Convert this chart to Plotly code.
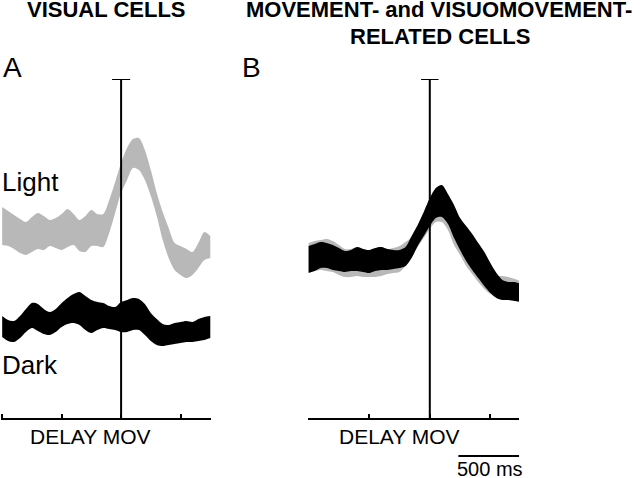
import plotly.graph_objects as go

# time relative to movement onset (ms)
TIME_MS = [-1000, -950, -900, -850, -800, -750, -700, -650, -600, -550, -500, -450,
           -400, -350, -300, -250, -200, -150, -100, -50, 0, 50, 100, 150,
           200, 250, 300, 350, 400, 450, 500, 550, 600, 650, 700, 750]

# Panel A (visual cells), activity in arbitrary units
A_LIGHT_UPPER = [211, 207, 203, 199, 196, 201, 205, 202, 198, 200, 204, 209, 204, 198, 202, 208, 204, 204,
                 218, 236, 255, 270, 279, 280, 268, 248, 225, 206, 190, 175, 172, 169, 166, 175, 186, 182]
A_LIGHT_LOWER = [173, 172, 169, 165, 163, 166, 169, 168, 172, 170, 168, 171, 173, 167, 166, 172, 172, 171,
                 185, 205, 225, 238, 250, 248, 238, 222, 202, 178, 160, 148, 143, 140, 143, 150, 158, 160]
A_DARK_UPPER = [102, 98, 97, 102, 109, 115, 114, 109, 106, 109, 115, 120, 124, 126, 122, 118, 116, 115,
                112, 111, 116, 118, 120, 119, 114, 105, 99, 94, 93, 95, 96, 97, 96, 99, 101, 102]
A_DARK_LOWER = [81, 77, 76, 80, 86, 90, 87, 84, 83, 86, 91, 94, 95, 93, 88, 85, 88, 90,
                89, 88, 86, 86, 88, 88, 83, 77, 73, 72, 73, 74, 75, 76, 76, 77, 78, 80]

# Panel B (movement- and visuomovement-related cells)
B_LIGHT_UPPER = [175, 177, 178, 179, 177, 173, 169, 169, 171, 169, 168, 170, 171, 169, 170, 172, 176, 181,
                 190, 200, 207, 211, 210, 203, 191, 180, 171, 163, 155, 148, 143, 142, 142, 141, 139, 137]
B_LIGHT_LOWER = [146, 147, 148, 147, 146, 143, 141, 141, 142, 141, 141, 141, 142, 144, 145, 146, 152, 161,
                 171, 180, 189, 196, 196, 188, 173, 163, 152, 144, 136, 129, 124, 121, 120, 119, 119, 118]
B_DARK_UPPER = [172, 174, 176, 175, 173, 170, 167, 168, 171, 169, 168, 170, 171, 169, 168, 168, 171, 182,
                193, 206, 220, 230, 233, 224, 213, 200, 192, 184, 175, 166, 155, 145, 138, 136, 136, 134]
B_DARK_LOWER = [145, 147, 150, 150, 148, 147, 146, 147, 147, 146, 145, 147, 148, 148, 149, 150, 152, 160,
                172, 182, 192, 200, 201, 194, 180, 168, 157, 148, 140, 132, 125, 120, 118, 118, 117, 116]

TICKS_MS = [-1000, -500, 0, 500]
GRAY = "rgb(184,184,184)"
BLACK = "black"
FONT = "Liberation Sans, Arial, Helvetica, sans-serif"

W, H = 640, 478


def band(fig, lower, upper, color, xa, ya):
    fig.add_trace(go.Scatter(x=TIME_MS, y=lower, mode="lines",
                             line=dict(width=0, color=color, shape="spline", smoothing=0.8),
                             xaxis=xa, yaxis=ya, showlegend=False, hoverinfo="skip"))
    fig.add_trace(go.Scatter(x=TIME_MS, y=upper, mode="lines", fill="tonexty", fillcolor=color,
                             line=dict(width=0, color=color, shape="spline", smoothing=0.8),
                             xaxis=xa, yaxis=ya, showlegend=False, hoverinfo="skip"))


fig = go.Figure()
band(fig, A_LIGHT_LOWER, A_LIGHT_UPPER, GRAY, "x", "y")
band(fig, A_DARK_LOWER, A_DARK_UPPER, BLACK, "x", "y")
band(fig, B_LIGHT_LOWER, B_LIGHT_UPPER, GRAY, "x2", "y2")
band(fig, B_DARK_LOWER, B_DARK_UPPER, BLACK, "x2", "y2")

YTOP = 339
ydom = [1 - 418 / H, 1 - 79 / H]

xax = dict(showline=True, linecolor="black", linewidth=2, ticks="inside", ticklen=4,
           tickwidth=2, tickcolor="black", tickvals=TICKS_MS, showticklabels=False,
           showgrid=False, zeroline=False, fixedrange=True)
yax = dict(visible=False, range=[0, YTOP], domain=ydom, showgrid=False, zeroline=False,
           fixedrange=True)

fig.update_layout(
    width=W, height=H,
    margin=dict(l=0, r=0, t=0, b=0),
    paper_bgcolor="white", plot_bgcolor="white",
    xaxis=dict(xax, domain=[1 / W, 211 / W], range=[-1010, 756], anchor="y"),
    yaxis=dict(yax, anchor="x"),
    xaxis2=dict(xax, domain=[308 / W, 519 / W], range=[-1005, 736], anchor="y2"),
    yaxis2=dict(yax, anchor="x2"),
    font=dict(family=FONT, color="black"),
    hovermode=False,
)

shapes = []
for xr, yr, cap in (("x", "y", 76), ("x2", "y2", 72)):
    shapes.append(dict(type="line", xref=xr, yref=yr, x0=0, x1=0, y0=0, y1=YTOP,
                       line=dict(color="black", width=2), layer="above"))
    shapes.append(dict(type="line", xref=xr, yref=yr, x0=-cap, x1=cap, y0=YTOP, y1=YTOP,
                       line=dict(color="black", width=2), layer="above"))
# 500 ms scale bar
shapes.append(dict(type="line", xref="x2", yref="paper", x0=236, x1=736,
                   y0=1 - 456 / H, y1=1 - 456 / H, line=dict(color="black", width=2)))
fig.update_layout(shapes=shapes)


def txt(s, px, py, size, xanchor="center", bold=False):
    return dict(text=("<b>%s</b>" % s) if bold else s, x=px / W, y=1 - py / H,
                xref="paper", yref="paper", xanchor=xanchor, yanchor="middle",
                showarrow=False, font=dict(size=size, family=FONT, color="black"))


fig.update_layout(annotations=[
    txt("VISUAL CELLS", 106.5, 9.5, 22, bold=True),
    txt("MOVEMENT- and VISUOMOVEMENT-", 438.5, 9.5, 22, bold=True),
    txt("RELATED CELLS", 440, 37, 22, bold=True),
    txt("A", 1, 67, 28, xanchor="left"),
    txt("B", 240, 67, 28, xanchor="left"),
    txt("Light", 0, 182.5, 26, xanchor="left"),
    txt("Dark", 0, 365, 26, xanchor="left"),
    txt("DELAY MOV", 90, 436.5, 21),
    txt("DELAY MOV", 399.5, 436.5, 21),
    txt("500 ms", 489.5, 469, 20),
])

fig.write_html("out.html", config={"displayModeBar": False, "staticPlot": True},
               post_script="document.body.style.margin='0';document.body.style.overflow='hidden';")
